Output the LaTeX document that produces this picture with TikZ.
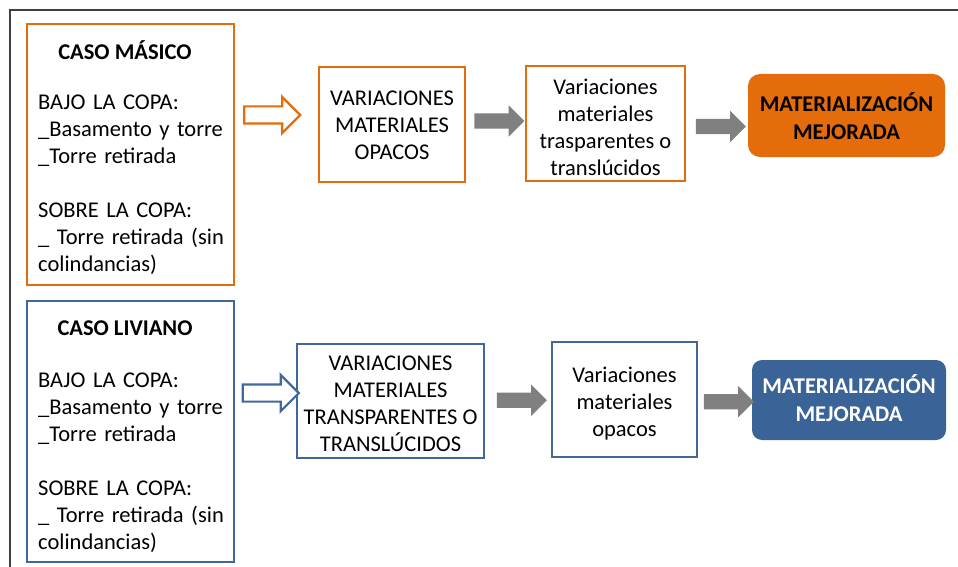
\documentclass[tikz,border=0pt]{standalone}
\usepackage{fontspec}
\setmainfont{Carlito}
\usetikzlibrary{shapes.arrows,calc}
\definecolor{orng}{HTML}{E46C0A}
\definecolor{blu}{HTML}{41689B}
\definecolor{bluf}{HTML}{3A6497}
\definecolor{grr}{HTML}{808080}
\definecolor{frm}{HTML}{404040}
\begin{document}
\begin{tikzpicture}[x=1pt,y=-1pt,
  txt/.style={font=\fontsize{22.5}{27}\selectfont, text=black},
  lbl/.style={txt, align=center, inner sep=0pt},
  obox/.style={draw=orng, line width=2.4pt, inner sep=0pt, align=center, txt},
  bbox/.style={draw=blu, line width=2.4pt, inner sep=0pt, align=center, txt},
  ofill/.style={fill=orng, rounded corners=12pt, inner sep=0pt, align=center, txt, font=\fontsize{22.5}{28}\selectfont\bfseries},
  bfill/.style={fill=bluf, rounded corners=10pt, inner sep=0pt, align=center, txt, text=white, font=\fontsize{22.5}{28}\selectfont\bfseries},
  hollowarrow/.style={single arrow, draw=#1, fill=white, line width=2.2pt, inner sep=0pt, minimum width=0pt,
     inner ysep=7.5pt, inner xsep=0pt, single arrow head extend=9.5pt, minimum height=56pt},
  grayarrow/.style={single arrow, fill=grr, draw=none, inner sep=0pt, minimum width=0pt,
     inner ysep=7.5pt, inner xsep=0pt, single arrow head extend=8pt, minimum height=50pt},
  head/.style={txt, font=\fontsize{22.5}{27}\selectfont\bfseries, anchor=base, inner sep=0pt},
  body/.style={txt, anchor=base west, inner sep=0pt, text width=192pt, align=left}
]
\useasboundingbox (0,0) rectangle (958,567);
% frame
\coordinate (fbl) at (10,567);
\coordinate (ftl) at (10,10);
\coordinate (ftr) at (958,10);
\draw[frm, line width=1.3pt] (fbl) -- (ftl) -- (ftr);

% ---------- CASO MASICO ----------
\node[obox, minimum width=207pt, minimum height=261pt] (m) at (130.5,154.5) {};
\node[head] (mh) at (125,59.5) {CASO MÁSICO};
\node[body] (mb) at (38,109.5) {BAJO LA COPA:\\\_Basamento y torre\\\_Torre retirada\\[27pt]SOBRE LA COPA:\\\_ Torre retirada (sin\\colindancias)};

\node[obox, minimum width=146pt, minimum height=115pt] (mv1) at (392,124.5) {};
\node[lbl] (mv1t) at ($(mv1)+(0,1)$) {VARIACIONES\\MATERIALES\\OPACOS};
\node[obox, minimum width=159pt, minimum height=115pt] (mv2) at (605.5,123.5) {};
\node[lbl] (mv2t) at ($(mv2)+(0,3.5)$) {Variaciones\\materiales\\trasparentes o\\translúcidos};
\node[ofill, minimum width=197pt, minimum height=83pt] (mr) at (846.5,115.5) {};
\node[lbl, font=\fontsize{22.5}{28}\selectfont\bfseries] (mrt) at ($(mr)+(0,1)$) {MATERIALIZACIÓN\\MEJORADA};

\node[hollowarrow=orng] (ma1) at (268,115) {};
\node[grayarrow] (ma2) at ($(mv1.east)!0.5!(mv2.west)+(0,-3)$) {};
\node[grayarrow] (ma3) at ($(mv2.east)!0.5!(mr.west)+(0,7)$) {};

% ---------- CASO LIVIANO ----------
\node[bbox, minimum width=207pt, minimum height=261pt] (l) at (130.5,431.5) {};
\node[head] (lh) at (125,335.5) {CASO LIVIANO};
\node[body] (lb) at (38,387.5) {BAJO LA COPA:\\\_Basamento y torre\\\_Torre retirada\\[27pt]SOBRE LA COPA:\\\_ Torre retirada (sin\\colindancias)};

\node[bbox, minimum width=187pt, minimum height=114pt] (lv1) at (390.5,401) {};
\node[lbl] (lv1t) at ($(lv1)+(0,3)$) {VARIACIONES\\MATERIALES\\TRANSPARENTES O\\TRANSLÚCIDOS};
\node[bbox, minimum width=145pt, minimum height=115pt] (lv2) at (624.5,399.5) {};
\node[lbl] (lv2t) at ($(lv2)+(0,4)$) {Variaciones\\materiales\\opacos};
\node[bfill, minimum width=194pt, minimum height=80pt] (lr) at (849,400) {};
\node[lbl, text=white, font=\fontsize{22.5}{28}\selectfont\bfseries] (lrt) at ($(lr)+(0,-1.5)$) {MATERIALIZACIÓN\\MEJORADA};

\node[hollowarrow=blu] (la1) at (266.5,393) {};
\node[grayarrow] (la2) at ($(lv1.east)!0.5!(lv2.west)$) {};
\node[grayarrow] (la3) at ($(lv2.east)!0.5!(lr.west)+(0,2)$) {};
\end{tikzpicture}
\end{document}
